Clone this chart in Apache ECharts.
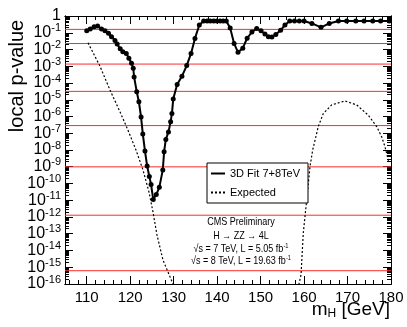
<!DOCTYPE html>
<html>
<head>
<meta charset="utf-8">
<script src="https://cdn.jsdelivr.net/npm/echarts@6/dist/echarts.min.js"></script>
<style>
    html, body { margin: 0; padding: 0; background: #fff; }
    #chart { width: 407px; height: 327px; }
</style>
</head>
<body>
<div id="chart"></div>
<script>
// observed local p-value (3D fit, 7+8 TeV)
var fitMass = [110.0, 110.8, 111.7, 112.5, 113.4, 114.2, 115.0, 115.7, 116.5, 117.0, 117.7, 118.3, 119.1, 119.7,
    120.3, 120.7, 120.9, 121.5, 122.0, 122.5, 122.9, 123.4, 123.9, 124.4, 124.8, 125.3, 126.0, 126.7, 127.5,
    127.8, 128.2, 128.8, 129.3, 129.6, 129.9, 130.8, 131.9, 133.0, 134.0, 134.9, 135.9, 136.9, 137.7, 138.4,
    139.2, 139.9, 140.7, 141.4, 142.1, 143.0, 143.9, 144.8, 145.9, 146.9, 148.0, 149.1, 150.1, 151.0, 151.8,
    152.6, 153.5, 154.6, 155.6, 156.7, 157.8, 158.9, 160.0, 161.8, 163.9, 165.8, 167.9, 169.8, 171.9, 173.8,
    175.8, 177.6, 179.6]
var fitP = [0.13, 0.17, 0.23, 0.25, 0.17, 0.13, 0.093, 0.058, 0.035, 0.021, 0.011, 7.4e-3, 5.8e-3, 3.0e-3,
    1.5e-3, 7.6e-4, 2.3e-4, 3.0e-5, 7.6e-6, 9.3e-7, 9.1e-8, 8.7e-9, 1.1e-9, 2.6e-10, 8.7e-11, 1.1e-11, 2.2e-11,
    5.9e-11, 6.5e-10, 7.9e-9, 4.3e-8, 1.2e-7, 4.9e-7, 1.5e-6, 1.1e-5, 8.1e-5, 2.5e-4, 1.1e-3, 5.8e-3, 0.046,
    0.29, 0.5, 0.5, 0.5, 0.5, 0.5, 0.5, 0.5, 0.5, 0.19, 0.023, 6.8e-3, 0.012, 0.047, 0.11, 0.18, 0.13, 0.085,
    0.058, 0.056, 0.079, 0.14, 0.29, 0.5, 0.5, 0.5, 0.5, 0.36, 0.21, 0.36, 0.5, 0.5, 0.5, 0.5, 0.5, 0.5, 0.5]

// expected, low-mass branch and high-mass branch
var expMassLow = [110.3, 113.05, 115.35, 117.65, 119.5, 121.33, 122.94, 124.32, 125.24, 126.16, 127.54, 128.7, 129.84, 130.5]
var expPLow = [0.025, 1.0e-3, 3.8e-5, 1.9e-6, 1.5e-7, 1e-8, 6.5e-10, 3.1e-11, 2e-12, 8.5e-14, 2.7e-15, 5.2e-16, 1e-16, 1e-17]
var expMassHigh = [158.6, 158.83, 159.3, 159.82, 160.6, 161.36, 161.98, 163.27, 164.42, 166.35, 169.4, 172.1, 174.77, 176.7, 177.85, 178.6, 179.5]
var expPHigh = [1e-17, 1e-16, 3.5e-16, 1.1e-13, 1e-11, 1e-9, 1e-8, 2.5e-7, 1.5e-6, 4.9e-6, 8.5e-6, 4.9e-6, 1.2e-6, 2.5e-7, 6.2e-8, 1.6e-8, 1.9e-9]

// 1..8 sigma reference lines
var sigmaP = [0.1587, 0.02275, 1.35e-3, 3.167e-5, 2.867e-7, 9.866e-10, 1.28e-12, 6.22e-16]

var xMajor = [110, 120, 130, 140, 150, 160, 170, 180]

function pairs(xs, ys) {
    return xs.map(function (x, i) { return [x, ys[i]] })
}

var xMinor = []
for (var m = 106; m < 180; m += 2) {
    if (m % 10 !== 0) xMinor.push(m)
}
var yMajor = []
var yMinor = []
var yEven = []
var yOdd = []
for (var e = -16; e <= 0; e++) {
    yMajor.push(Math.pow(10, e))
    if (e % 2 === 0) yEven.push(Math.pow(10, e))
    else yOdd.push(Math.pow(10, e))
    if (e < 0) {
        for (var k = 2; k <= 9; k++) yMinor.push(k * Math.pow(10, e))
    }
}

var FONT = 'Liberation Sans'

function xAx(pos, ticks, len, labels) {
    return {
        type: 'value', position: pos, min: 105, max: 180,
        axisLine: { show: true, onZero: false, lineStyle: { color: '#000', width: 1 } },
        axisTick: { show: true, inside: true, length: len, customValues: ticks, lineStyle: { color: '#000' } },
        axisLabel: labels ? {
            show: true, customValues: xMajor, margin: 6, color: '#000', fontSize: 15, fontFamily: FONT,
            showMinLabel: true, showMaxLabel: true,
        } : { show: false },
        splitLine: { show: false },
    }
}

// decade labels are split over two overlapping axes so none gets hidden
function yAx(pos, ticks, len, labels) {
    return {
        type: 'log', logBase: 10, position: pos, min: 1e-16, max: 1,
        axisLine: { show: true, onZero: false, lineStyle: { color: '#000', width: 1 } },
        axisTick: { show: true, inside: true, length: len, customValues: ticks, lineStyle: { color: '#000' } },
        axisLabel: labels ? {
            show: true, customValues: labels, margin: 4, color: '#000', fontFamily: FONT,
            showMinLabel: true, showMaxLabel: true, hideOverlap: false,
            formatter: function (v) {
                var ex = Math.round(Math.log10(v))
                if (ex === 0) return '{b|1}'
                return '{b|10}{s|' + ex + '}'
            },
            rich: {
                b: { fontSize: 16, fontFamily: FONT, color: '#000' },
                s: { fontSize: 11, fontFamily: FONT, color: '#000', padding: [0, 0, 9, 0] },
            },
        } : { show: false },
        splitLine: { show: false },
    }
}

var sigmaSeries = sigmaP.map(function (p, i) {
    return {
        name: 'sigma' + (i + 1), type: 'line', data: [[105, p], [180, p]],
        symbol: 'none', silent: true, z: 1,
        lineStyle: { color: '#ff2b2b', width: 1 },
    }
})

var chart = echarts.init(document.getElementById('chart'), null, { renderer: 'canvas' })
chart.setOption({
    animation: false,
    backgroundColor: '#fff',
    grid: { left: 65, right: 16, top: 16, bottom: 43 },
    xAxis: [
        xAx('bottom', xMajor, 8, true),
        xAx('bottom', xMinor, 4, false),
        xAx('top', xMajor, 8, false),
        xAx('top', xMinor, 4, false),
    ],
    yAxis: [
        yAx('left', yMajor, 8, yEven),
        yAx('left', yMinor, 4, yOdd),
        yAx('right', yMajor, 8, null),
        yAx('right', yMinor, 4, null),
    ],
    legend: {
        orient: 'vertical', left: 207, top: 163,
        backgroundColor: '#fff', borderColor: '#000', borderWidth: 1, borderRadius: 0,
        padding: [5, 8, 5, 3], itemGap: 8, itemWidth: 14, itemHeight: 10,
        textStyle: { fontSize: 11, fontFamily: FONT, color: '#000' },
        itemStyle: { opacity: 0 },
        data: ['3D Fit 7+8TeV', 'Expected'],
    },
    graphic: [
        {
            type: 'text', x: 17, y: 76, rotation: Math.PI / 2,
            style: { text: 'local p-value', fontSize: 20, fontFamily: FONT, fill: '#000', align: 'center', verticalAlign: 'middle' },
        },
        {
            type: 'text', x: 390, y: 310,
            style: {
                text: '{m|m}{h|H}{m| [GeV]}', align: 'right', verticalAlign: 'middle',
                rich: {
                    m: { fontSize: 19, fontFamily: FONT, fill: '#000' },
                    h: { fontSize: 12, fontFamily: FONT, fill: '#000', padding: [8, 0, 0, 0] },
                },
            },
        },
        {
            type: 'text', x: 241, y: 222, scaleX: 0.82,
            style: { text: 'CMS Preliminary', fontSize: 11, fontFamily: FONT, fill: '#000', align: 'center', verticalAlign: 'middle' },
        },
        {
            type: 'text', x: 241, y: 236, scaleX: 0.82,
            style: { text: 'H \u2192 ZZ \u2192 4L', fontSize: 11, fontFamily: FONT, fill: '#000', align: 'center', verticalAlign: 'middle' },
        },
        {
            type: 'text', x: 241, y: 249, scaleX: 0.82,
            style: {
                text: '{t|\u221As = 7 TeV, L = 5.05 fb}{s|-1}', align: 'center', verticalAlign: 'middle',
                rich: {
                    t: { fontSize: 11, fontFamily: FONT, fill: '#000' },
                    s: { fontSize: 7, fontFamily: FONT, fill: '#000', padding: [0, 0, 6, 0] },
                },
            },
        },
        {
            type: 'text', x: 241, y: 261, scaleX: 0.82,
            style: {
                text: '{t|\u221As = 8 TeV, L = 19.63 fb}{s|-1}', align: 'center', verticalAlign: 'middle',
                rich: {
                    t: { fontSize: 11, fontFamily: FONT, fill: '#000' },
                    s: { fontSize: 7, fontFamily: FONT, fill: '#000', padding: [0, 0, 6, 0] },
                },
            },
        },
    ],
    series: sigmaSeries.concat([
        {
            name: 'Expected', type: 'line', data: pairs(expMassLow, expPLow),
            symbol: 'none', clip: true, z: 2,
            lineStyle: { color: '#000', width: 1.2, type: [2, 2] },
            itemStyle: { color: '#000' },
        },
        {
            name: 'Expected', type: 'line', data: pairs(expMassHigh, expPHigh),
            symbol: 'none', clip: true, z: 2,
            lineStyle: { color: '#000', width: 1.2, type: [2, 2] },
            itemStyle: { color: '#000' },
        },
        {
            name: '3D Fit 7+8TeV', type: 'line', data: pairs(fitMass, fitP),
            symbol: 'circle', symbolSize: 5, clip: true, z: 3,
            lineStyle: { color: '#000', width: 2 },
            itemStyle: { color: '#000' },
        },
    ]),
})
</script>
</body>
</html>
